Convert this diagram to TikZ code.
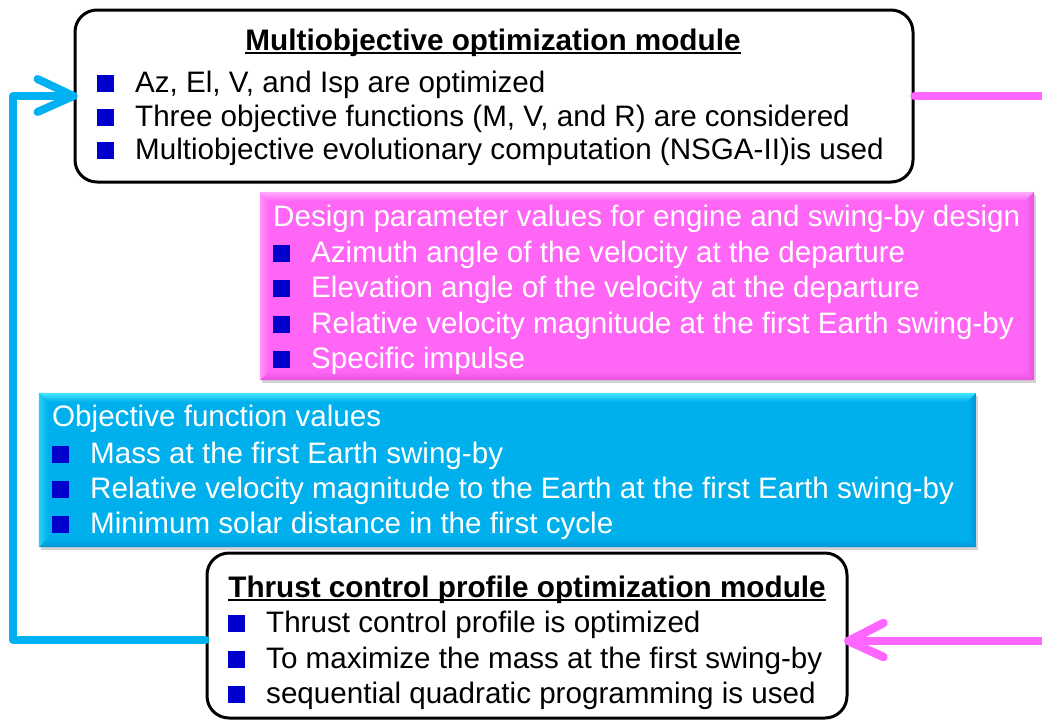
\documentclass[tikz,border=0pt]{standalone}
\usepackage{fontspec}
\setmainfont{Liberation Sans}
\usetikzlibrary{calc,shadows}
\definecolor{pinkmain}{RGB}{255,102,245}
\definecolor{pinklight}{RGB}{255,175,252}
\definecolor{pinkdark}{RGB}{228,82,218}
\definecolor{bluemain}{RGB}{0,176,236}
\definecolor{bluelight}{RGB}{70,232,255}
\definecolor{bluedark}{RGB}{0,150,212}
\definecolor{bulletblue}{RGB}{0,0,204}
\definecolor{linecyan}{RGB}{0,176,240}
\definecolor{linepink}{RGB}{255,102,255}
\newcommand\bul{\makebox[38pt][l]{\textcolor{bulletblue}{\rule{17pt}{17pt}}}}
\newcommand\ulin[1]{\setbox0\hbox{#1}\rlap{\rule[-3.5pt]{\wd0}{1.6pt}}\box0}
\newcommand\bevel[2]{%
  \shade[top color=#2light, bottom color=#2main] (#1.north west) -- (#1.north east) -- ($(#1.north east)+(-9,9)$) -- ($(#1.north west)+(9,9)$) -- cycle;
  \shade[left color=#2main, right color=#2dark] (#1.north east) -- (#1.south east) -- ($(#1.south east)+(-9,-9)$) -- ($(#1.north east)+(-9,9)$) -- cycle;
  \shade[top color=#2main, bottom color=#2dark] (#1.south east) -- (#1.south west) -- ($(#1.south west)+(9,-9)$) -- ($(#1.south east)+(-9,-9)$) -- cycle;
  \shade[left color=#2light!60!#2main, right color=#2main] (#1.south west) -- (#1.north west) -- ($(#1.north west)+(9,9)$) -- ($(#1.south west)+(9,-9)$) -- cycle;
}
\begin{document}
\begin{tikzpicture}[x=1pt,y=-1pt,
  modbox/.style={draw=black, line width=3pt, rounded corners=22pt, fill=white, inner sep=0pt},
  flatbox/.style={inner sep=0pt, drop shadow={opacity=0.35, shadow xshift=2pt, shadow yshift=-3pt}},
  txt/.style={anchor=base west, inner sep=0pt, font=\fontsize{29.6}{34}\selectfont},
  wtxt/.style={txt, text=white},
  ttl/.style={anchor=base, inner sep=0pt, font=\fontsize{29.7}{34}\selectfont\bfseries},
  cyanline/.style={draw=linecyan, line width=8pt, line cap=round, line join=round},
  pinkline/.style={draw=linepink, line width=8.5pt, line cap=round, line join=round}]
\useasboundingbox (0,0) rectangle (1042,721);

% boxes
\node[modbox, minimum width=838pt, minimum height=172pt] (top) at (494,96) {};
\node[flatbox, fill=pinkmain, minimum width=774pt, minimum height=188pt] (pink) at (647,286) {};
\bevel{pink}{pink}
\node[flatbox, fill=bluemain, minimum width=937pt, minimum height=154pt] (blue) at (507.5,470) {};
\bevel{blue}{blue}
\node[modbox, minimum width=640pt, minimum height=165pt] (bot) at (527,635.5) {};

% top box text
\node[ttl] (tt) at (493,50) {\ulin{Multiobjective optimization module}};
\node[txt] (t1) at (97,92) {\bul Az, El, V, and Isp are optimized};
\node[txt] (t2) at (97,126) {\bul Three objective functions (M, V, and R) are considered};
\node[txt] (t3) at (97,159) {\bul Multiobjective evolutionary computation (NSGA-II)is used};

% pink box text
\node[wtxt] (pt) at (273,226) {Design parameter values for engine and swing-by design};
\node[wtxt] (p1) at (273,262) {\bul Azimuth angle of the velocity at the departure};
\node[wtxt] (p2) at (273,297) {\bul Elevation angle of the velocity at the departure};
\node[wtxt] (p3) at (273,333) {\bul Relative velocity magnitude at the first Earth swing-by};
\node[wtxt] (p4) at (273,368) {\bul Specific impulse};

% blue box text
\node[wtxt] (bt) at (52,426) {Objective function values};
\node[wtxt] (b1) at (52,463) {\bul Mass at the first Earth swing-by};
\node[wtxt] (b2) at (52,498) {\bul Relative velocity magnitude to the Earth at the first Earth swing-by};
\node[wtxt] (b3) at (52,533) {\bul Minimum solar distance in the first cycle};

% bottom box text
\node[ttl] (ut) at (527,597) {\ulin{Thrust control profile optimization module}};
\node[txt] (u1) at (228,632) {\bul Thrust control profile is optimized};
\node[txt] (u2) at (228,668) {\bul To maximize the mass at the first swing-by};
\node[txt] (u3) at (228,703) {\bul sequential quadratic programming is used};

% connectors
\coordinate (bw) at ($(bot.west)+(0,4.5)$);
\coordinate (lc1) at (13,640);
\coordinate (lc2) at (13,96);
\draw[cyanline] (bw) -- (lc1) -- (lc2) -- (top.west);
\draw[cyanline] ($(top.west)+(-36,-17)$) -- (top.west) -- ($(top.west)+(-36,16)$);

\coordinate (pr1) at (1050,96);
\draw[pinkline] (top.east) -- (pr1);

\coordinate (be) at ($(bot.east)+(0,5.5)$);
\coordinate (pr2) at (1050,641);
\draw[pinkline] (pr2) -- (be);
\draw[pinkline] ($(be)+(35,-18)$) -- (be) -- ($(be)+(35,16)$);
\end{tikzpicture}
\end{document}
